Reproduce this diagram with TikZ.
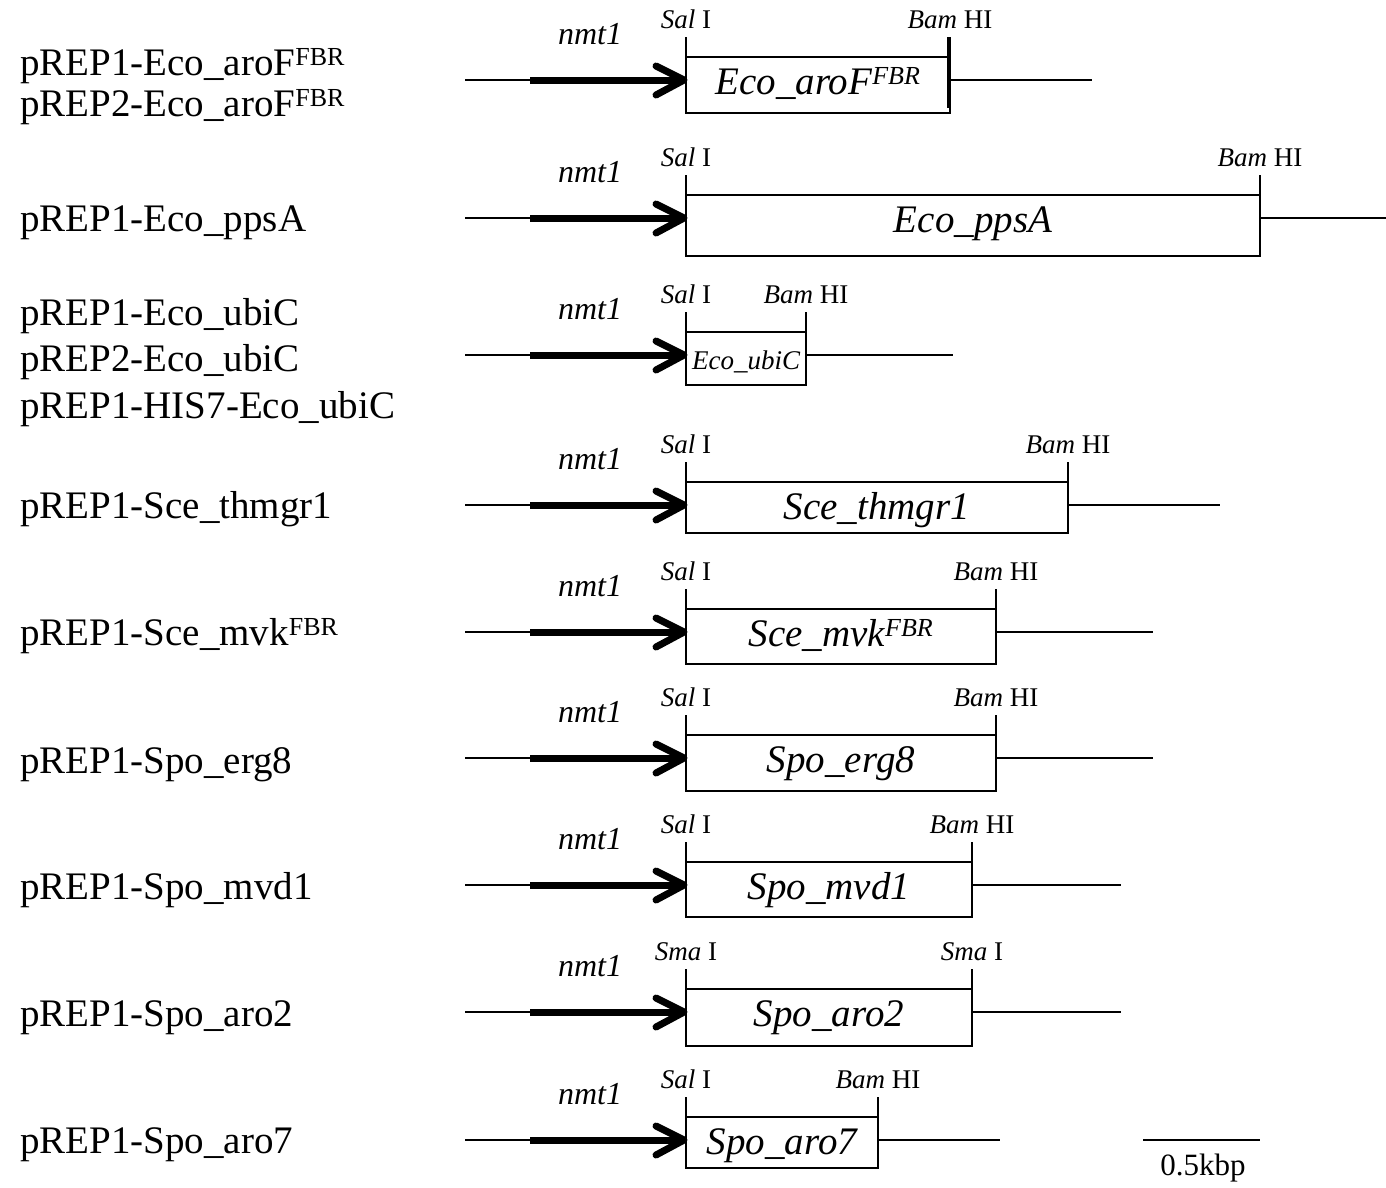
\documentclass[tikz,border=0pt]{standalone}
\usepackage{fontspec}
\setmainfont{Liberation Serif}
\tikzset{
  thin line/.style={line width=2pt},
  promoter/.style={line width=7pt},
  chevron/.style={line width=7pt, line cap=round, line join=round},
  genebox/.style={draw, line width=2pt, anchor=north west, inner sep=0pt, outer sep=0pt},
  genetext/.style={font=\fontsize{39}{44}\selectfont\itshape, anchor=base, inner sep=0pt},
  genesmall/.style={font=\fontsize{27}{30}\selectfont\itshape, anchor=base, inner sep=0pt},
  sitetext/.style={font=\fontsize{27}{30}\selectfont, anchor=base, inner sep=0pt},
  promtext/.style={font=\fontsize{32}{36}\selectfont\itshape, anchor=base, inner sep=0pt},
  vlabel/.style={font=\fontsize{39}{44}\selectfont, anchor=base west, inner sep=0pt},
}
\newcommand\fbr{\textsuperscript{\fontsize{26}{28}\selectfont FBR}}
% #1 id, #2 line y, #3 box right x, #4 line end x, #5 box bottom offset,
% #6 gene text, #7 left site, #8 right site, #9 gene style
\newcommand\plasmid[9]{%
  \coordinate (#1-s) at (465,#2);
  \coordinate (#1-t) at (530,#2);
  \coordinate (#1-a) at (680,#2);
  \coordinate (#1-p) at (684,#2);
  \coordinate (#1-c1) at (656,{#2-14});
  \coordinate (#1-c2) at (656,{#2+15});
  \coordinate (#1-r) at (#3,#2);
  \coordinate (#1-e) at (#4,#2);
  \coordinate (#1-lt) at (686,{#2-43});
  \coordinate (#1-rt) at (#3,{#2-43});
  \node[genebox, minimum width={(#3-686)*1pt}, minimum height={(23+#5)*1pt}] (#1-box) at (686,{#2-23}) {};
  \draw[thin line] (#1-s) -- (#1-t);
  \draw[promoter] (#1-t) -- (#1-a);
  \draw[chevron] (#1-c1) -- (#1-p) -- (#1-c2);
  \draw[thin line] (#1-r) -- (#1-e);
  \draw[thin line] (#1-lt) -- (#1-box.north west);
  \draw[thin line] (#1-rt) -- (#1-box.north east);
  \node[#9] (#1-g) at ({(686+#3)/2},{#2+14}) {#6};
  \node[sitetext] (#1-ls) at (686,{#2-52}) {#7};
  \node[sitetext] (#1-rs) at (#3,{#2-52}) {#8};
  \node[promtext] (#1-n) at (590,{#2-36}) {nmt1};
}
\newcommand\sal{\textit{Sal}~I}
\newcommand\bam{\textit{Bam}~HI}
\newcommand\sma{\textit{Sma}~I}
\begin{document}
\begin{tikzpicture}[x=1pt,y=-1pt]
\useasboundingbox (0,0) rectangle (1386,1187);
% left labels
\node[vlabel] (l1a) at (20,75) {pREP1-Eco\_aroF\fbr};
\node[vlabel] (l1b) at (20,116) {pREP2-Eco\_aroF\fbr};
\node[vlabel] (l2) at (20,231) {pREP1-Eco\_ppsA};
\node[vlabel] (l3a) at (20,325) {pREP1-Eco\_ubiC};
\node[vlabel] (l3b) at (20,371) {pREP2-Eco\_ubiC};
\node[vlabel] (l3c) at (20,418) {pREP1-HIS7-Eco\_ubiC};
\node[vlabel] (l4) at (20,518) {pREP1-Sce\_thmgr1};
\node[vlabel] (l5) at (20,645) {pREP1-Sce\_mvk\fbr};
\node[vlabel] (l6) at (20,773) {pREP1-Spo\_erg8};
\node[vlabel] (l7) at (20,899) {pREP1-Spo\_mvd1};
\node[vlabel] (l8) at (20,1026) {pREP1-Spo\_aro2};
\node[vlabel] (l9) at (20,1153) {pREP1-Spo\_aro7};
% constructs
\plasmid{r1}{80}{950}{1092}{33}{Eco\_aroF\fbr}{\sal}{\bam}{genetext}
\coordinate (r1-x1) at (948,37);
\coordinate (r1-x2) at (948,108);
\draw[line width=3pt] (r1-x1) -- (r1-x2);
\plasmid{r2}{218}{1260}{1386}{38}{Eco\_ppsA}{\sal}{\bam}{genetext}
\plasmid{r3}{355}{806}{953}{30}{Eco\_ubiC}{\sal}{\bam}{genesmall}
\plasmid{r4}{505}{1068}{1220}{28}{Sce\_thmgr1}{\sal}{\bam}{genetext}
\plasmid{r5}{632}{996}{1153}{32}{Sce\_mvk\fbr}{\sal}{\bam}{genetext}
\plasmid{r6}{758}{996}{1153}{33}{Spo\_erg8}{\sal}{\bam}{genetext}
\plasmid{r7}{885}{972}{1121}{32}{Spo\_mvd1}{\sal}{\bam}{genetext}
\plasmid{r8}{1012}{972}{1121}{34}{Spo\_aro2}{\sma}{\sma}{genetext}
\plasmid{r9}{1140}{878}{1000}{28}{Spo\_aro7}{\sal}{\bam}{genetext}
% scale bar
\coordinate (sb1) at (1143,1140);
\coordinate (sb2) at (1260,1140);
\draw[thin line] (sb1) -- (sb2);
\node[font=\fontsize{31}{34}\selectfont, anchor=base, inner sep=0pt] (sbl) at (1203,1175) {0.5kbp};
\end{tikzpicture}
\end{document}
